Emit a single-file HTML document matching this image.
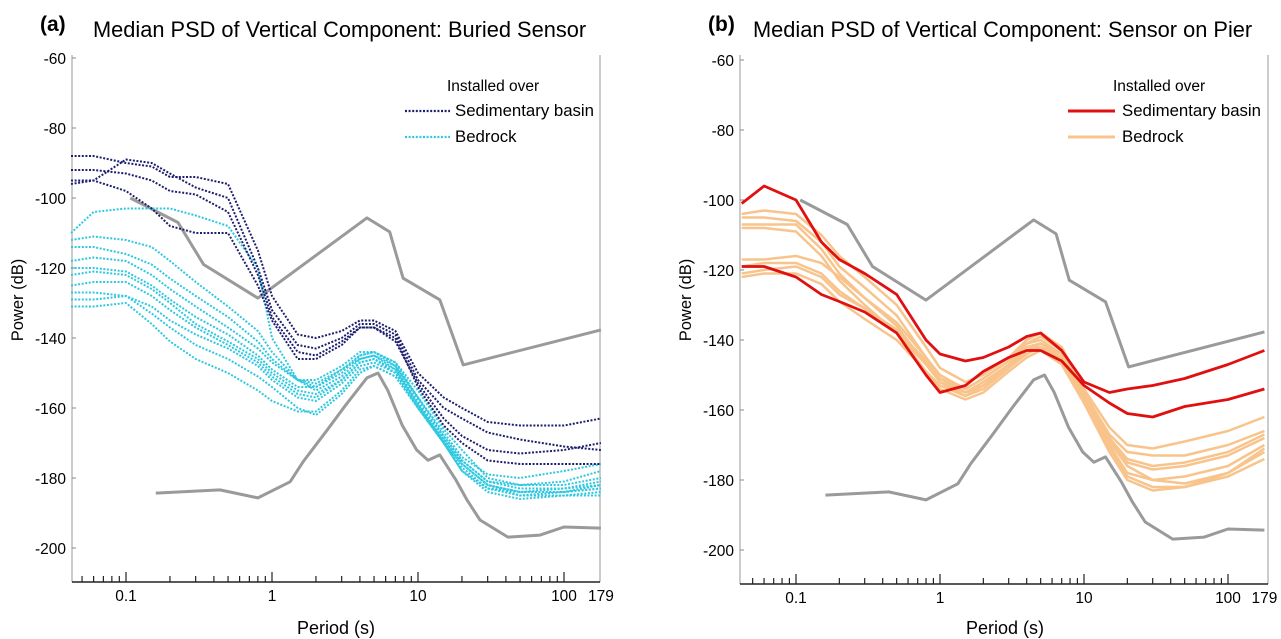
<!DOCTYPE html>
<html><head><meta charset="utf-8"><style>
body{margin:0;background:#fff}
svg{display:block;font-family:"Liberation Sans","DejaVu Sans",sans-serif}
</style></head><body>
<svg id="chart" width="1281" height="639" viewBox="0 0 1281 639" xmlns="http://www.w3.org/2000/svg">
<text x="40" y="31" font-size="21" font-weight="bold">(a)</text>
<text x="93" y="37" font-size="21.8">Median PSD of Vertical Component: Buried Sensor</text>
<text x="708" y="31" font-size="21" font-weight="bold">(b)</text>
<text x="753" y="37" font-size="21.8">Median PSD of Vertical Component: Sensor on Pier</text>
<text transform="translate(23,300) rotate(-90)" text-anchor="middle" font-size="16.5">Power (dB)</text>
<text transform="translate(691,300) rotate(-90)" text-anchor="middle" font-size="16.5">Power (dB)</text>
<text x="336" y="634" text-anchor="middle" font-size="18">Period (s)</text>
<text x="1005" y="634" text-anchor="middle" font-size="18">Period (s)</text>
<g id="gA"></g>
<g id="gB"></g>
<g>
<text x="447" y="91" font-size="15.5">Installed over</text>
<line x1="405" y1="111" x2="450" y2="111" stroke="#1d1f6e" stroke-width="2.2" stroke-dasharray="2 1.6"/>
<text x="455" y="116" font-size="16.8">Sedimentary basin</text>
<line x1="405" y1="137" x2="450" y2="137" stroke="#2ec8e0" stroke-width="2.2" stroke-dasharray="2 1.6"/>
<text x="455" y="142" font-size="16.8">Bedrock</text>
</g>
<g>
<text x="1113" y="91" font-size="15.5">Installed over</text>
<line x1="1068" y1="111" x2="1115" y2="111" stroke="#e01010" stroke-width="3"/>
<text x="1122" y="116" font-size="16.8">Sedimentary basin</text>
<line x1="1068" y1="137" x2="1115" y2="137" stroke="#f8c48c" stroke-width="3"/>
<text x="1122" y="142" font-size="16.8">Bedrock</text>
</g>
</svg>
<script>
const periods=[0.042,0.06,0.1,0.15,0.2,0.3,0.5,0.8,1,1.5,2,3,4,5,7,10,15,20,30,50,100,179];
const nhnmP=[0.107,0.227,0.34,0.8,4.47,6.4,7.9,14.1,20.4,179];
const nhnmDb=[-100,-107,-119,-128.6,-105.7,-109.7,-122.9,-129.1,-147.7,-137.7];
const nlnmP=[0.16,0.44,0.8,1.33,1.63,2.31,3.21,4.47,5.32,6.2,7.8,9.8,11.7,14.1,18.2,21.7,26.6,41.3,68.5,100,179];
const nlnmDb=[-184.3,-183.4,-185.7,-181.1,-175.4,-167.1,-159.1,-151.4,-150,-154.9,-164.9,-172,-174.9,-173.4,-180.6,-186.3,-192,-196.9,-196.3,-194,-194.3];
const buriedSed=[
[-88,-88,-90,-91,-94,-94,-96,-115,-128,-139,-140,-138,-135,-135,-138,-150,-157,-160,-164,-165,-165,-163],
[-96,-95,-89,-90,-93,-97,-100,-120,-132,-142,-143,-140,-136,-136,-139,-152,-160,-163,-167,-169,-171,-172],
[-95,-95,-98,-103,-108,-110,-110,-125,-135,-146,-146,-142,-137,-137,-141,-153,-163,-168,-172,-173,-172,-170],
[-92,-92,-93,-95,-98,-99,-104,-122,-134,-144,-145,-141,-137,-137,-140,-154,-165,-170,-175,-176,-176,-176]];
const buriedRock=[
[-110,-104,-103,-103,-103,-105,-108,-120,-140,-152,-154,-150,-145,-144,-147,-155,-166,-172,-180,-182,-181,-178],
[-114,-114,-116,-119,-123,-128,-134,-141,-146,-152,-153,-149,-145,-144,-147,-157,-168,-175,-181,-182,-182,-180],
[-118,-117,-118,-122,-126,-131,-137,-143,-147,-152,-152,-148,-144,-144,-148,-158,-169,-176,-182,-184,-183,-182],
[-120,-120,-121,-125,-129,-134,-139,-145,-149,-154,-154,-149,-146,-145,-149,-159,-170,-177,-183,-184,-184,-183],
[-122,-121,-122,-126,-130,-136,-141,-146,-150,-155,-156,-152,-147,-146,-149,-159,-170,-178,-184,-186,-185,-185],
[-125,-124,-124,-128,-132,-137,-142,-147,-151,-156,-157,-152,-147,-146,-150,-160,-170,-178,-183,-185,-184,-182],
[-127,-127,-128,-131,-135,-139,-143,-148,-152,-157,-158,-153,-148,-147,-150,-159,-168,-175,-181,-183,-183,-181],
[-129,-129,-128,-133,-137,-142,-146,-151,-154,-160,-162,-156,-150,-148,-151,-160,-170,-176,-182,-184,-184,-183],
[-131,-131,-130,-136,-141,-146,-150,-155,-158,-161,-161,-155,-149,-148,-151,-160,-169,-176,-182,-185,-185,-184],
[-112,-111,-112,-114,-118,-124,-131,-138,-144,-152,-155,-151,-146,-145,-148,-157,-167,-174,-179,-180,-178,-176]];
const pierSed=[
[-101,-96,-100,-112,-117,-121,-127,-140,-144,-146,-145,-142,-139,-138,-143,-152,-155,-154,-153,-151,-147,-143],
[-119,-119,-122,-127,-129,-132,-138,-150,-155,-153,-149,-145,-143,-143,-146,-153,-158,-161,-162,-159,-157,-154]];
const pierRock=[
[-104,-103,-104,-110,-116,-122,-130,-142,-148,-152,-150,-145,-140,-138,-142,-154,-165,-170,-171,-169,-166,-162],
[-105,-105,-106,-112,-119,-125,-133,-145,-150,-154,-151,-146,-141,-139,-143,-155,-167,-172,-173,-173,-170,-166],
[-107,-107,-107,-114,-121,-128,-136,-147,-152,-155,-152,-147,-142,-141,-144,-156,-168,-175,-177,-176,-173,-168],
[-108,-108,-109,-116,-123,-130,-138,-149,-153,-156,-153,-147,-143,-141,-145,-157,-170,-178,-180,-179,-176,-170],
[-117,-117,-116,-118,-122,-128,-135,-145,-151,-155,-153,-148,-143,-142,-145,-156,-169,-176,-180,-181,-178,-172],
[-119,-118,-118,-121,-126,-131,-138,-147,-152,-156,-154,-148,-144,-142,-146,-157,-171,-179,-182,-182,-178,-171],
[-121,-120,-119,-122,-127,-131,-137,-146,-151,-154,-151,-146,-141,-140,-144,-156,-168,-174,-176,-175,-172,-167],
[-122,-121,-121,-124,-129,-134,-140,-149,-154,-157,-155,-149,-145,-143,-147,-158,-172,-180,-183,-182,-179,-174]];
const yTicks=[-60,-80,-100,-120,-140,-160,-180,-200];
const xLabels=[0.1,1,10,100,179];
const NS="http://www.w3.org/2000/svg";
function mk(tag,attrs,parent){const e=document.createElementNS(NS,tag);for(const k in attrs)e.setAttribute(k,attrs[k]);parent.appendChild(e);return e;}
function panel(g,x1,pxDec,y200,xLeft,xRight,bottom){
  const X=p=>x1+pxDec*Math.log10(p), Y=d=>y200-3.5*(d+200);
  const line=(ps,ds,stroke,w,dash,name)=>{
    const pts=ps.map((p,i)=>X(p).toFixed(1)+","+Y(ds[i]).toFixed(1)).join(" ");
    const a={points:pts,fill:"none",stroke:stroke,"stroke-width":w,"stroke-linejoin":"round"};
    if(dash)a["stroke-dasharray"]=dash;
    const e=mk("polyline",a,g);
    
    
  };
  const ax=mk("line",{x1:xLeft,y1:55,x2:xLeft,y2:bottom,stroke:"#aaa","stroke-width":1.2},g);
  
  
  const rb=mk("line",{x1:xRight,y1:55,x2:xRight,y2:bottom,stroke:"#bbb","stroke-width":1.5},g);
  
  
  const bx=mk("line",{x1:xLeft,y1:bottom,x2:xRight,y2:bottom,stroke:"#222","stroke-width":1.5},g);
  
  
  yTicks.forEach(t=>{
    const tk=mk("line",{x1:xLeft,y1:Y(t),x2:xLeft+4,y2:Y(t),stroke:"#888"},g);
    
    
    const tx=mk("text",{x:xLeft-6,y:Y(t)+6,"text-anchor":"end","font-size":15.5},g);
    tx.textContent=t;
    
    
  });
  for(let e=-2;e<=2;e++)for(let m=1;m<10;m++){
    const p=m*Math.pow(10,e);const x=X(p);
    if(x<xLeft+2||x>xRight)continue;
    const tk=mk("line",{x1:x,y1:bottom,x2:x,y2:bottom-(m===1?10:6),stroke:"#222","stroke-width":1.2},g);
    
    
  }
  xLabels.forEach(p=>{
    const tx=mk("text",{x:X(p),y:bottom+19,"text-anchor":"middle","font-size":15.5},g);
    tx.textContent=p;
    
    
  });
  line(nhnmP,nhnmDb,"#9a9a9a",3,null,"nhnm-line");
  line(nlnmP,nlnmDb,"#9a9a9a",3,null,"nlnm-line");
  return line;
}
const lineA=panel(document.getElementById("gA"),272,146,548,72,600,582);
buriedRock.forEach(s=>lineA(periods,s,"#2ec8e0",2,"2 1.6","bedrock-curve"));
buriedSed.forEach(s=>lineA(periods,s,"#1d1f6e",2,"2 1.6","sedimentary-curve"));
const lineB=panel(document.getElementById("gB"),940,144,550,740,1268,584);
pierRock.forEach(s=>lineB(periods,s,"#f8c48c",2.5,null,"bedrock-curve"));
pierSed.forEach(s=>lineB(periods,s,"#e01010",2.8,null,"sedimentary-curve"));
</script>
</body></html>
